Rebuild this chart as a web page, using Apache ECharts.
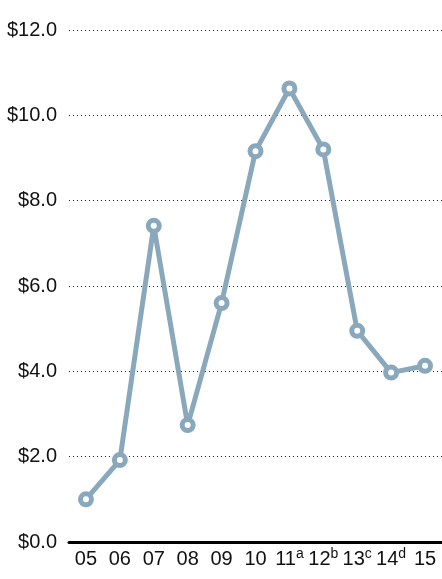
<!DOCTYPE html>
<html><head><meta charset="utf-8">
<script src="https://cdn.jsdelivr.net/npm/echarts@6/dist/echarts.min.js"></script>
<style>html,body{margin:0;padding:0;background:#fff}#c{width:442px;height:579px}</style>
</head><body><div id="c"></div>
<script>
var years = ['05','06','07','08','09','10','11','12','13','14','15'];
var notes = ['','','','','','','a','b','c','d',''];
var values = [1.0, 1.92, 7.41, 2.74, 5.6, 9.16, 10.63, 9.2, 4.95, 3.97, 4.13];
var yTicks = {min: 0, max: 12, interval: 2};

var chart = echarts.init(document.getElementById('c'));
var font = 'Liberation Sans, Arial, sans-serif';
chart.setOption({
  animation: false,
  grid: {left: 69, top: 30, width: 376, bottom: 37, containLabel: false},
  xAxis: {
    type: 'category', data: years, boundaryGap: true,
    axisLine: {lineStyle: {color: '#000', width: 3}},
    axisTick: {show: false},
    axisLabel: {
      margin: 5, interval: 0,
      formatter: function (v, i) {
        var n = notes[i];
        return n ? '{n|' + v + '}{s|' + n + '}' : '{n|' + v + '}';
      },
      rich: {
        n: {fontFamily: font, fontSize: 20, color: '#111', lineHeight: 24},
        s: {fontFamily: font, fontSize: 14, color: '#111', verticalAlign: 'top', lineHeight: 16}
      }
    }
  },
  yAxis: {
    type: 'value', min: yTicks.min, max: yTicks.max, interval: yTicks.interval,
    axisLine: {show: false}, axisTick: {show: false},
    axisLabel: {
      margin: 12, fontFamily: font, fontSize: 20, color: '#111',
      formatter: function (v) { return '$' + v.toFixed(1); }
    },
    splitLine: {lineStyle: {color: '#222', width: 1, type: [1, 3]}}
  },
  series: [{
    type: 'line', data: values,
    lineStyle: {color: '#8aa8bc', width: 5},
    symbol: 'circle', symbolSize: 11,
    itemStyle: {color: '#fff', borderColor: '#8aa8bc', borderWidth: 5},
    z: 5
  }]
});
</script></body></html>
